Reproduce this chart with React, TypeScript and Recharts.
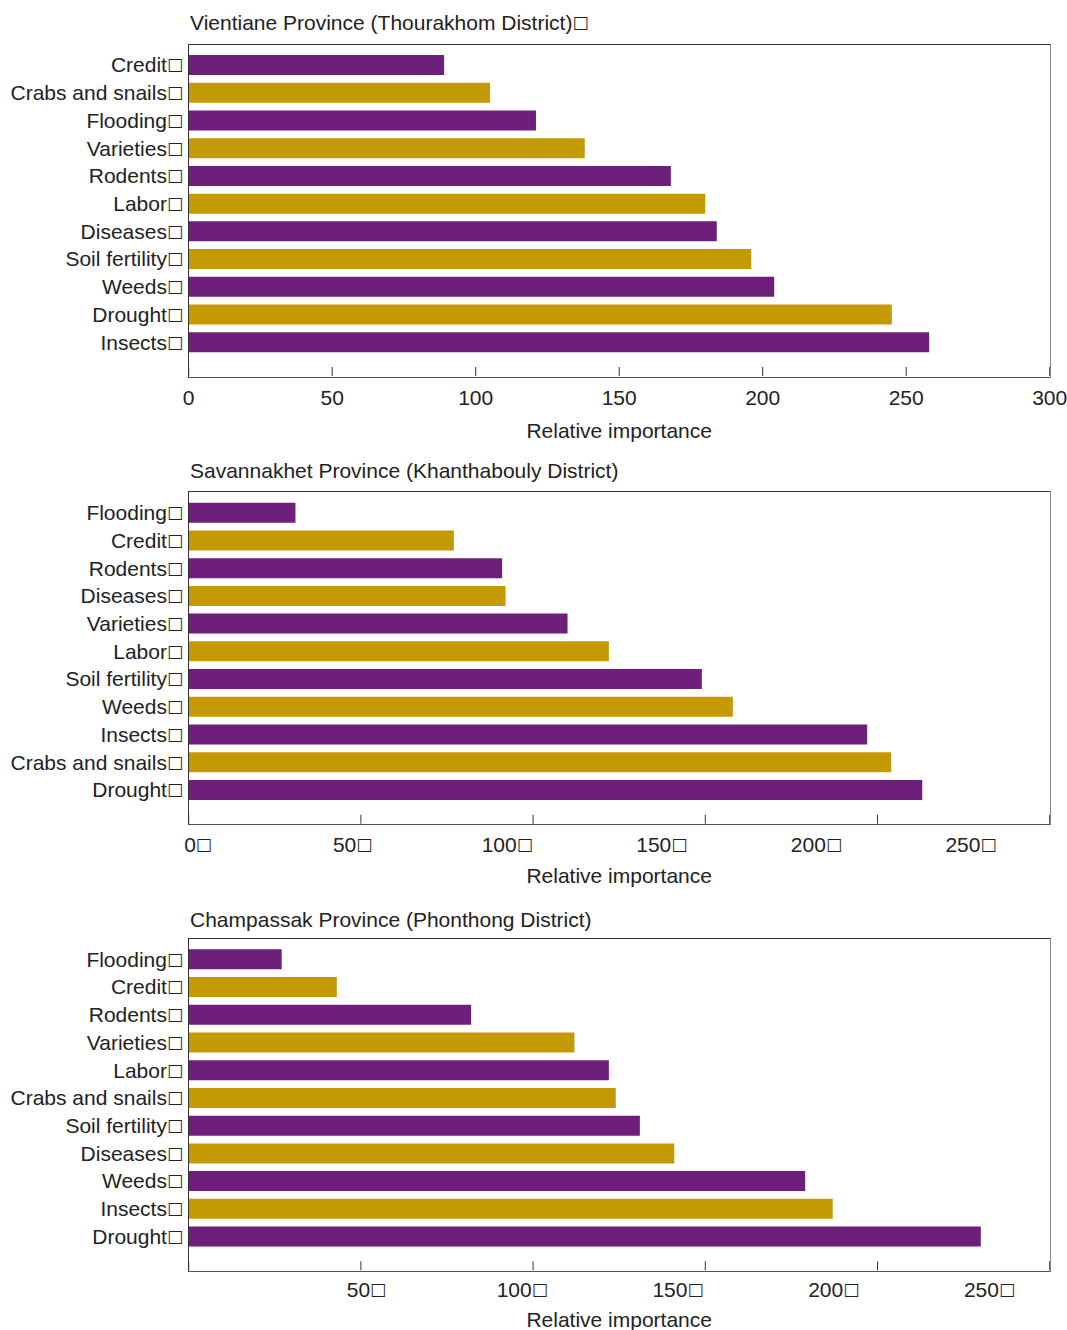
import { BarChart, Bar, XAxis, YAxis, Cell, Label } from "recharts";

// the source strings end with a character that the original showed as an empty box
const BOX = "\u25A1";
const PURPLE = "#6D1F7B";
const GOLD = "#C49A04";
const FONT = '"Liberation Sans", Arial, sans-serif';
const BOX_STYLE = { fontFamily: '"DejaVu Sans"', fontSize: 17, fontWeight: 700 };

// Vientiane Province (Thourakhom District)
const vientianeFactors = [
  "Credit", "Crabs and snails", "Flooding", "Varieties", "Rodents", "Labor",
  "Diseases", "Soil fertility", "Weeds", "Drought", "Insects",
];
const vientianeValues = [89, 105, 121, 138, 168, 180, 184, 196, 204, 245, 258];

// Savannakhet Province (Khanthabouly District)
const savannakhetFactors = [
  "Flooding", "Credit", "Rodents", "Diseases", "Varieties", "Labor",
  "Soil fertility", "Weeds", "Insects", "Crabs and snails", "Drought",
];
const savannakhetValues = [31, 77, 91, 92, 110, 122, 149, 158, 197, 204, 213];

// Champassak Province (Phonthong District)
const champassakFactors = [
  "Flooding", "Credit", "Rodents", "Varieties", "Labor", "Crabs and snails",
  "Soil fertility", "Diseases", "Weeds", "Insects", "Drought",
];
const champassakValues = [27, 43, 82, 112, 122, 124, 131, 141, 179, 187, 230];

const ticks300 = [0, 50, 100, 150, 200, 250, 300];
const ticks250 = [0, 50, 100, 150, 200, 250];

const PLOT_LEFT = 188.7;
const PLOT_W = 861;
const PLOT_H = 332;

interface PanelProps {
  title: string;
  titleBox: boolean;
  names: string[];
  values: number[];
  top: number;
  height: number;
  marginTop: number;
  xMax: number;
  ticks: number[];
  showZero: boolean;
  labelBox: boolean;
  // the printed tick numbers drift away from their tick marks in the original
  labelShift: number;
  labelStretch: number;
  tickDy: number;
  axisLabelDy: number;
  titleTop: number;
}

function Panel(p: PanelProps) {
  const data = p.names.map((name, i) => ({ name, value: p.values[i] }));
  return (
    <div style={{ position: "absolute", left: 0, top: p.top, width: 1067, height: p.height }}>
      <div
        style={{
          position: "absolute",
          left: 190,
          top: p.titleTop,
          fontSize: 21,
          lineHeight: "21px",
          color: "#222",
          whiteSpace: "nowrap",
        }}
      >
        {p.title}
        {p.titleBox && (
          <span style={{ ...BOX_STYLE, position: "relative", top: -2 }}>{BOX}</span>
        )}
      </div>
      <BarChart
        width={1067}
        height={p.height}
        data={data}
        layout="vertical"
        margin={{ top: p.marginTop, right: 1067 - PLOT_LEFT - PLOT_W, bottom: 0, left: 0 }}
        style={{ fontFamily: FONT }}
      >
        <XAxis
          type="number"
          domain={[0, p.xMax]}
          ticks={p.ticks}
          interval={0}
          orientation="bottom"
          height={p.height - p.marginTop - PLOT_H}
          axisLine={false}
          tickLine={false}
          tickSize={0}
          tickMargin={0}
          tick={(t: any) => {
            const v = t.payload.value;
            const show = v !== 0 || p.showZero;
            return (
              <g>
                <line x1={t.x} x2={t.x} y1={t.y} y2={t.y - 9} stroke="#333" strokeWidth={1} />
                {show && (
                  <text
                    x={t.x + p.labelShift + v * p.labelStretch}
                    y={t.y + p.tickDy}
                    textAnchor="middle"
                    fontSize={21}
                    fill="#222"
                  >
                    {v}
                    {p.labelBox && (
                      <tspan style={BOX_STYLE} dy={-2}>
                        {BOX}
                      </tspan>
                    )}
                  </text>
                )}
              </g>
            );
          }}
        >
          <Label
            content={(l: any) => (
              <text
                x={l.viewBox.x + l.viewBox.width / 2}
                y={l.viewBox.y + p.axisLabelDy}
                textAnchor="middle"
                fontSize={21}
                fill="#222"
              >
                Relative importance
              </text>
            )}
          />
        </XAxis>
        <YAxis
          type="category"
          dataKey="name"
          width={PLOT_LEFT}
          interval={0}
          padding={{ top: 7, bottom: 20 }}
          tickLine={false}
          tickSize={0}
          tickMargin={5.7}
          axisLine={false}
          tick={(t: any) => (
            <text x={t.x} y={t.y} dy={7.5} textAnchor="end" fontSize={21} fill="#222">
              {t.payload.value}
              <tspan style={BOX_STYLE} dy={-2}>
                {BOX}
              </tspan>
            </text>
          )}
        />
        <Bar dataKey="value" barSize={20} isAnimationActive={false}>
          {data.map((d, i) => (
            <Cell key={d.name} fill={i % 2 === 0 ? PURPLE : GOLD} />
          ))}
        </Bar>
      </BarChart>
      {/* frame around the plot area */}
      <div
        style={{
          position: "absolute",
          left: PLOT_LEFT - 0.5,
          top: p.marginTop - 0.5,
          width: PLOT_W,
          height: PLOT_H,
          borderTop: "1px solid #333",
          borderLeft: "1px solid #333",
          borderBottom: "1px solid #555",
          borderRight: "1px solid #888",
          pointerEvents: "none",
        }}
      />
    </div>
  );
}

export default function App() {
  return (
    <div
      style={{
        position: "absolute",
        left: 0,
        top: 0,
        width: 1067,
        height: 1330,
        background: "#fff",
        fontFamily: FONT,
      }}
    >
      <Panel
        title="Vientiane Province (Thourakhom District)"
        titleBox={true}
        names={vientianeFactors}
        values={vientianeValues}
        top={0}
        height={450}
        marginTop={44}
        xMax={300}
        ticks={ticks300}
        showZero={true}
        labelBox={false}
        labelShift={0}
        labelStretch={0}
        tickDy={29}
        axisLabelDy={62}
        titleTop={12.2}
      />
      <Panel
        title="Savannakhet Province (Khanthabouly District)"
        titleBox={false}
        names={savannakhetFactors}
        values={savannakhetValues}
        top={448}
        height={450}
        marginTop={43.7}
        xMax={250}
        ticks={ticks250}
        showZero={true}
        labelBox={true}
        labelShift={9.3}
        labelStretch={-0.352}
        tickDy={28}
        axisLabelDy={59}
        titleTop={11.9}
      />
      <Panel
        title="Champassak Province (Phonthong District)"
        titleBox={false}
        names={champassakFactors}
        values={champassakValues}
        top={896}
        height={434}
        marginTop={42.3}
        xMax={250}
        ticks={ticks250}
        showZero={false}
        labelBox={true}
        labelShift={22}
        labelStretch={-0.329}
        tickDy={26.5}
        axisLabelDy={56.5}
        titleTop={12.7}
      />
    </div>
  );
}
